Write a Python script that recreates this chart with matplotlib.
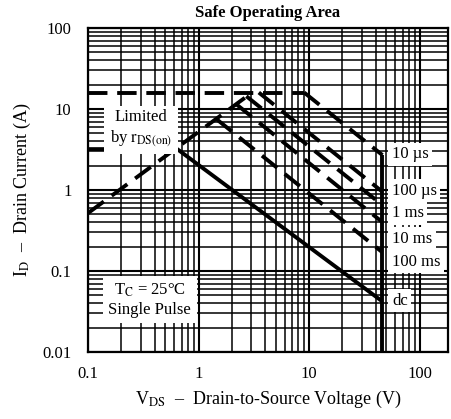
import matplotlib
matplotlib.use("Agg")
import matplotlib.pyplot as plt
from matplotlib.ticker import LogLocator, NullFormatter, FixedLocator, FixedFormatter

plt.rcParams['font.family'] = ['Liberation Serif', 'DejaVu Serif']
plt.rcParams['mathtext.fontset'] = 'stix'

# ---- data ----
rds_v = [0.1, 3.04]
rds_i = [0.52, 16.0]
ilim_v = [0.1, 9.0]
ilim_i = [16.0, 16.0]

pulse_labels = ['10 µs', '100 µs', '1 ms', '10 ms', '100 ms']
pulse_v = [[9.0, 46.0], [3.5, 46.0], [2.7, 46.0], [2.2, 46.0], [1.45, 46.0]]
pulse_i = [[16.0, 2.7], [16.0, 0.95], [14.4, 0.65], [11.4, 0.40], [7.5, 0.17]]

dc_v = [0.1, 0.64, 46.0]
dc_i = [3.2, 3.2, 0.042]

bv_v = [46.0, 46.0]
bv_i = [0.01, 2.7]

x_ticks = [0.1, 1, 10, 100]
x_ticklabels = ['0.1', '1', '10', '100']
y_ticks = [0.01, 0.1, 1, 10, 100]
y_ticklabels = ['0.01', '0.1', '1', '10', '100']

label_y = [2.75, 0.98, 0.52, 0.25, 0.13, 0.043]
label_text = pulse_labels + ['dc']

# ---- figure ----
fig = plt.figure(figsize=(4.52, 4.19), dpi=100)
ax = fig.add_axes([0.195, 0.160, 0.796, 0.773])
ax.set_xscale('log')
ax.set_yscale('log')
ax.set_xlim(0.1, 180)
ax.set_ylim(0.01, 100)

ax.grid(True, which='major', color='black', lw=1.5)
ax.grid(True, which='minor', color='black', lw=1.1)
ax.xaxis.set_minor_locator(LogLocator(base=10, subs=range(2, 10)))
ax.yaxis.set_minor_locator(LogLocator(base=10, subs=range(2, 10)))
ax.xaxis.set_minor_formatter(NullFormatter())
ax.yaxis.set_minor_formatter(NullFormatter())
ax.xaxis.set_major_locator(FixedLocator(x_ticks))
ax.xaxis.set_major_formatter(FixedFormatter(x_ticklabels))
ax.yaxis.set_major_locator(FixedLocator(y_ticks))
ax.yaxis.set_major_formatter(FixedFormatter(y_ticklabels))
ax.tick_params(which='both', length=0, labelsize=12)
ax.tick_params(axis='x', pad=10)
ax.tick_params(axis='y', pad=12)
for s in ax.spines.values():
    s.set_linewidth(1.6)
    s.set_color('black')

dash = (0, (5, 2.5))
lw = 2.8
ax.plot(rds_v, rds_i, color='black', lw=lw, linestyle=dash, zorder=5)
ax.plot(ilim_v, ilim_i, color='black', lw=lw, linestyle=dash, zorder=5)
for v, i in zip(pulse_v, pulse_i):
    ax.plot(v, i, color='black', lw=lw, linestyle=dash, zorder=5)
ax.plot(dc_v, dc_i, color='black', lw=lw, solid_capstyle='butt', zorder=5)
ax.plot(bv_v, bv_i, color='black', lw=lw, solid_capstyle='butt', zorder=5)

box = dict(facecolor='white', edgecolor='none', pad=2.5)
for y, t in zip(label_y, label_text):
    ax.text(56, y, t, ha='left', va='center', fontsize=12, bbox=box, zorder=6)

ax.text(0.3, 5.7, 'Limited\nby $\\mathrm{r_{DS(on)}}$', ha='center', va='center',
        fontsize=12, linespacing=1.3, zorder=6,
        bbox=dict(facecolor='white', edgecolor='none', pad=4))
ax.text(0.36, 0.044, 'T$_{\\mathrm{C}}$ = 25°C\nSingle Pulse', ha='center', va='center',
        fontsize=12, linespacing=1.2, zorder=6,
        bbox=dict(facecolor='white', edgecolor='none', pad=4))

ax.set_title('Safe Operating Area', fontsize=12, fontweight='bold', pad=8)
ax.set_xlabel('V$_{\\mathrm{DS}}$  –  Drain-to-Source Voltage (V)', fontsize=13, labelpad=5)
ax.set_ylabel('I$_{\\mathrm{D}}$  –  Drain Current (A)', fontsize=13, labelpad=7)

fig.savefig('out.png', dpi=100)
